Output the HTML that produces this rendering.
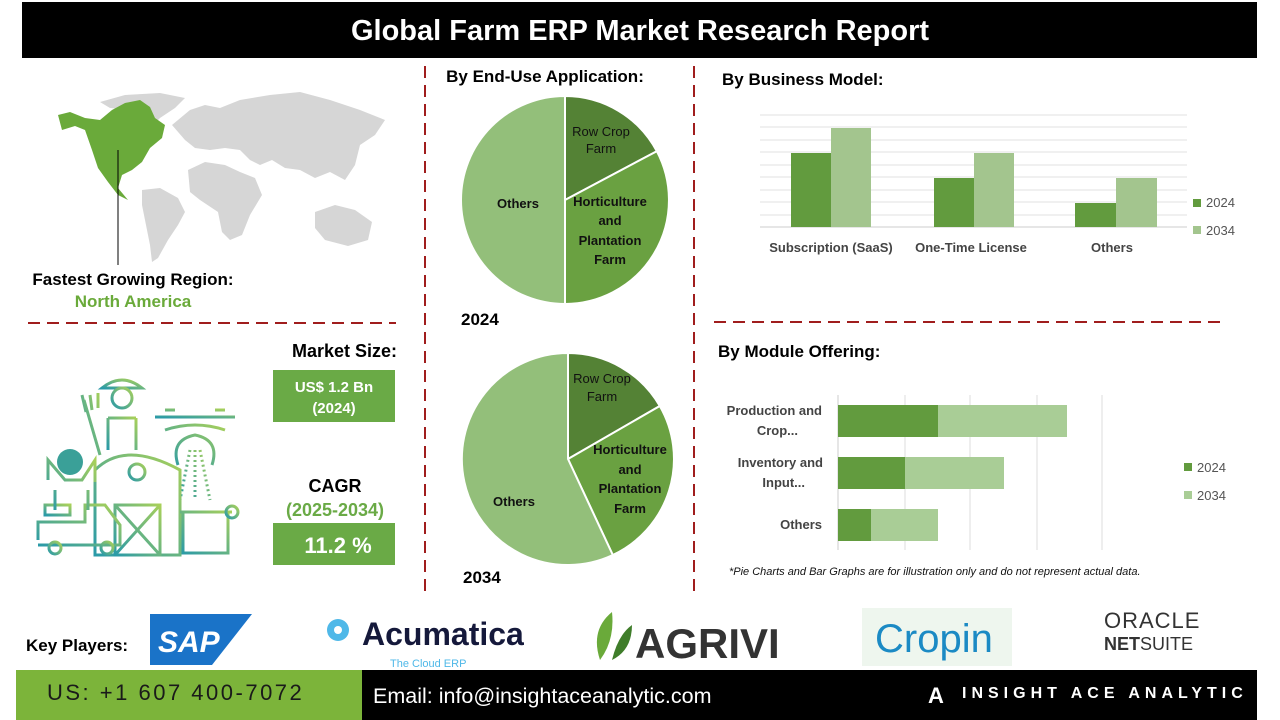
<!DOCTYPE html>
<html><head><meta charset="utf-8"><style>
body{margin:0;width:1280px;height:720px;overflow:hidden;background:#fff;font-family:"Liberation Sans",sans-serif}
svg{position:absolute;left:0;top:0}
</style></head><body>
<svg width="1280" height="720" viewBox="0 0 1280 720" font-family="Liberation Sans, sans-serif">
<defs><linearGradient id="ig" x1="0" y1="1" x2="1" y2="0"><stop offset="0" stop-color="#2a9aa8"/><stop offset="1" stop-color="#a8d05a"/></linearGradient></defs>
<rect x="22" y="2" width="1235" height="56" fill="#000"/>
<text x="640" y="40" fill="#fff" font-size="29" font-weight="bold" text-anchor="middle">Global Farm ERP Market Research Report</text>
<g stroke="#a01d1d" stroke-width="2" stroke-dasharray="12,7">
<line x1="425" y1="66" x2="425" y2="592"/><line x1="694" y1="66" x2="694" y2="592"/>
<line x1="28" y1="323" x2="396" y2="323"/><line x1="714" y1="322" x2="1226" y2="322"/>
</g>
<!-- map -->
<g fill="#d6d6d6">
<path d="M100 102 L125 95 L160 93 L185 98 L175 108 L160 118 L150 128 L140 125 L130 110 L110 108Z"/>
<path d="M142 190 L160 188 L178 198 L185 212 L178 225 L168 240 L158 258 L152 262 L150 245 L146 225 L142 205Z"/>
<path d="M188 170 L205 162 L225 165 L240 172 L255 178 L262 195 L250 215 L242 235 L230 240 L222 232 L218 212 L200 200 L190 192Z"/>
<path d="M172 125 L190 110 L205 105 L220 108 L240 100 L270 95 L300 92 L330 100 L360 110 L385 120 L375 135 L360 145 L355 165 L345 180 L330 172 L315 178 L300 170 L285 168 L272 160 L260 165 L250 160 L240 150 L225 148 L210 150 L195 148 L185 140Z"/>
<path d="M315 212 L335 205 L355 210 L372 222 L368 240 L348 246 L325 240 L315 228Z"/>
</g>
<path d="M58 115 L70 112 L85 118 L100 120 L112 110 L125 103 L140 100 L150 107 L155 118 L165 125 L162 138 L150 148 L142 162 L132 170 L122 175 L118 188 L128 200 L118 195 L108 182 L98 168 L92 150 L85 130 L75 126 L62 130Z" fill="#6aaa3a"/>
<line x1="118" y1="150" x2="118" y2="265" stroke="#000" stroke-width="1"/>
<text x="133" y="285" font-size="17" font-weight="bold" text-anchor="middle">Fastest Growing Region:</text>
<text x="133" y="307" font-size="17" font-weight="bold" fill="#6aaa3a" text-anchor="middle">North America</text>
<!-- illustration -->
<g fill="none" stroke="url(#ig)" stroke-width="3">
<path d="M102 388 Q122 372 142 388 Z"/><circle cx="122" cy="398" r="10"/>
<path d="M108 418 L108 450 M136 418 L136 450 M108 418 L136 418"/>
<path d="M84 400 L100 455 M82 395 L86 412 M90 395 L92 410 M98 393 L98 408"/>
<path d="M155 417 L235 417 M165 410 L175 410 M215 410 L225 410"/>
<path d="M165 430 Q195 420 225 430 M178 465 Q170 440 195 435 Q220 440 212 465"/>
<path d="M190 450 L180 500 M195 450 L195 500 M200 450 L210 500" stroke-dasharray="2,3"/>
<path d="M95 470 Q125 440 180 470 L180 555 L95 555 Z"/><path d="M115 505 L160 505 L160 555 L115 555Z M115 505 L160 555 M160 505 L115 555"/>
<circle cx="137" cy="472" r="8"/>
<path d="M38 540 L38 522 L85 522 L85 505 L105 505 L120 525 L120 545 L38 545"/>
<path d="M45 515 L70 515 L70 505 L45 505Z"/>
<circle cx="55" cy="548" r="6"/><circle cx="107" cy="548" r="6"/>
<path d="M48 480 L48 460 L65 480 L82 480 L95 460 L95 482 M55 490 L55 510 M88 490 L88 510"/>
<path d="M183 512 L228 512 L228 553 L183 553Z M180 512 L232 512"/><circle cx="232" cy="512" r="6"/>
</g>
<circle cx="70" cy="462" r="13" fill="#3aa098"/>
<text x="397" y="357" font-size="18" font-weight="bold" text-anchor="end">Market Size:</text>
<rect x="273" y="370" width="122" height="52" fill="#6aaa46"/>
<text x="334" y="392" font-size="15" font-weight="bold" fill="#fff" text-anchor="middle">US$ 1.2 Bn</text>
<text x="334" y="413" font-size="15" font-weight="bold" fill="#fff" text-anchor="middle">(2024)</text>
<text x="335" y="492" font-size="18" font-weight="bold" text-anchor="middle">CAGR</text>
<text x="335" y="516" font-size="18" font-weight="bold" fill="#6aaa46" text-anchor="middle">(2025-2034)</text>
<rect x="273" y="523" width="122" height="42" fill="#6aaa46"/>
<text x="338" y="553" font-size="22" font-weight="bold" fill="#fff" text-anchor="middle">11.2 %</text>
<!-- pies -->
<text x="545" y="82" font-size="17" font-weight="bold" text-anchor="middle">By End-Use Application:</text>
<g stroke="#fff" stroke-width="2">
<path d="M565 200 L565 96 A104 104 0 0 1 656.8 151.2Z" fill="#548235"/>
<path d="M565 200 L656.8 151.2 A104 104 0 0 1 565 304Z" fill="#6aa141"/>
<path d="M565 200 L565 304 A104 104 0 0 1 565 96Z" fill="#93bf7a"/>
<path d="M568 459 L568 353 A106 106 0 0 1 659.8 406Z" fill="#548235"/>
<path d="M568 459 L659.8 406 A106 106 0 0 1 612.8 555Z" fill="#6aa141"/>
<path d="M568 459 L612.8 555 A106 106 0 1 1 568 353Z" fill="#93bf7a"/>
</g>
<g font-size="13" font-weight="bold" text-anchor="middle" fill="#111">
<text x="601" y="136" font-weight="normal">Row Crop</text><text x="601" y="153" font-weight="normal">Farm</text>
<text x="518" y="208">Others</text>
<text x="610" y="206">Horticulture</text><text x="610" y="225">and</text><text x="610" y="245">Plantation</text><text x="610" y="264">Farm</text>
<text x="602" y="383" font-weight="normal">Row Crop</text><text x="602" y="401" font-weight="normal">Farm</text>
<text x="514" y="506">Others</text>
<text x="630" y="454">Horticulture</text><text x="630" y="474">and</text><text x="630" y="493">Plantation</text><text x="630" y="513">Farm</text>
</g>
<text x="461" y="325" font-size="17" font-weight="bold">2024</text>
<text x="463" y="583" font-size="17" font-weight="bold">2034</text>
<!-- business model -->
<text x="722" y="85" font-size="17" font-weight="bold">By Business Model:</text>
<g stroke="#e0e0e0" stroke-width="1">
<line x1="760" y1="115" x2="1187" y2="115"/><line x1="760" y1="127" x2="1187" y2="127"/><line x1="760" y1="140" x2="1187" y2="140"/><line x1="760" y1="152" x2="1187" y2="152"/><line x1="760" y1="165" x2="1187" y2="165"/><line x1="760" y1="177" x2="1187" y2="177"/><line x1="760" y1="190" x2="1187" y2="190"/><line x1="760" y1="202" x2="1187" y2="202"/><line x1="760" y1="215" x2="1187" y2="215"/>
<line x1="760" y1="227" x2="1187" y2="227" stroke="#ccc"/>
</g>
<rect x="791" y="153" width="40" height="74" fill="#629b3e"/><rect x="831" y="128" width="40" height="99" fill="#a3c58e"/>
<rect x="934" y="178" width="40" height="49" fill="#629b3e"/><rect x="974" y="153" width="40" height="74" fill="#a3c58e"/>
<rect x="1075" y="203" width="41" height="24" fill="#629b3e"/><rect x="1116" y="178" width="41" height="49" fill="#a3c58e"/>
<g font-size="13" font-weight="bold" fill="#444" text-anchor="middle">
<text x="831" y="252">Subscription (SaaS)</text><text x="971" y="252">One-Time License</text><text x="1112" y="252">Others</text></g>
<rect x="1193" y="199" width="8" height="8" fill="#629b3e"/><text x="1206" y="207" font-size="13" fill="#555">2024</text>
<rect x="1193" y="226" width="8" height="8" fill="#a3c58e"/><text x="1206" y="235" font-size="13" fill="#555">2034</text>
<!-- module -->
<text x="718" y="357" font-size="17" font-weight="bold">By Module Offering:</text>
<g stroke="#ddd"><line x1="905" y1="395" x2="905" y2="550"/><line x1="970" y1="395" x2="970" y2="550"/><line x1="1037" y1="395" x2="1037" y2="550"/><line x1="1102" y1="395" x2="1102" y2="550"/><line x1="838" y1="395" x2="838" y2="550" stroke="#ccc"/></g>
<rect x="838" y="405" width="100" height="32" fill="#629b3e"/><rect x="938" y="405" width="129" height="32" fill="#a9cd96"/>
<rect x="838" y="457" width="67" height="32" fill="#629b3e"/><rect x="905" y="457" width="99" height="32" fill="#a9cd96"/>
<rect x="838" y="509" width="33" height="32" fill="#629b3e"/><rect x="871" y="509" width="67" height="32" fill="#a9cd96"/>
<g font-size="13" font-weight="bold" fill="#444" text-anchor="end">
<text x="822" y="415">Production and</text><text x="798" y="435">Crop...</text>
<text x="823" y="467">Inventory and</text><text x="805" y="487">Input...</text>
<text x="822" y="529">Others</text></g>
<rect x="1184" y="463" width="8" height="8" fill="#629b3e"/><text x="1197" y="472" font-size="13" fill="#555">2024</text>
<rect x="1184" y="491" width="8" height="8" fill="#a9cd96"/><text x="1197" y="500" font-size="13" fill="#555">2034</text>
<text x="729" y="575" font-size="11" font-style="italic" fill="#111">*Pie Charts and Bar Graphs are for illustration only and do not represent actual data.</text>
<!-- key players -->
<text x="26" y="651" font-size="17" font-weight="bold">Key Players:</text>
<path d="M150 614 L252 614 L212 665 L150 665Z" fill="#1a73c8"/>
<text x="158" y="652" font-size="30" font-weight="bold" fill="#fff" font-style="italic">SAP</text>
<circle cx="338" cy="630" r="11" fill="#4fb8e8"/><circle cx="338" cy="630" r="4" fill="#fff"/>
<text x="362" y="645" font-size="32" font-weight="bold" fill="#15193b">Acumatica</text>
<text x="390" y="667" font-size="11" fill="#4fb8e8">The Cloud ERP</text>
<path d="M600 660 Q590 630 612 612 Q615 640 600 660Z" fill="#6aaa3a"/><path d="M612 660 Q618 635 632 625 Q632 650 612 660Z" fill="#3f7d2a"/>
<text x="635" y="658" font-size="42" font-weight="bold" fill="#333">AGRIVI</text>
<rect x="862" y="608" width="150" height="58" fill="#eef6ee"/>
<text x="875" y="652" font-size="40" fill="#1b8ac4">Cropin</text>
<text x="1104" y="628" font-size="22" fill="#333" letter-spacing="1">ORACLE</text>
<text x="1104" y="650" font-size="18" fill="#333"><tspan font-weight="bold">NET</tspan>SUITE</text>
<!-- footer -->
<rect x="16" y="670" width="346" height="50" fill="#7cb43a"/>
<rect x="362" y="670" width="895" height="50" fill="#000"/>
<text x="47" y="700" font-size="22" fill="#1a1a1a" letter-spacing="2.5">US: +1 607 400-7072</text>
<text x="373" y="703" font-size="21.5" fill="#fff">Email: info@insightaceanalytic.com</text>
<text x="928" y="703" font-size="22" fill="#fff" font-weight="bold">A</text>
<text x="962" y="698" font-size="16" fill="#fff" font-weight="bold" letter-spacing="5">INSIGHT ACE ANALYTIC</text>
</svg>
</body></html>
